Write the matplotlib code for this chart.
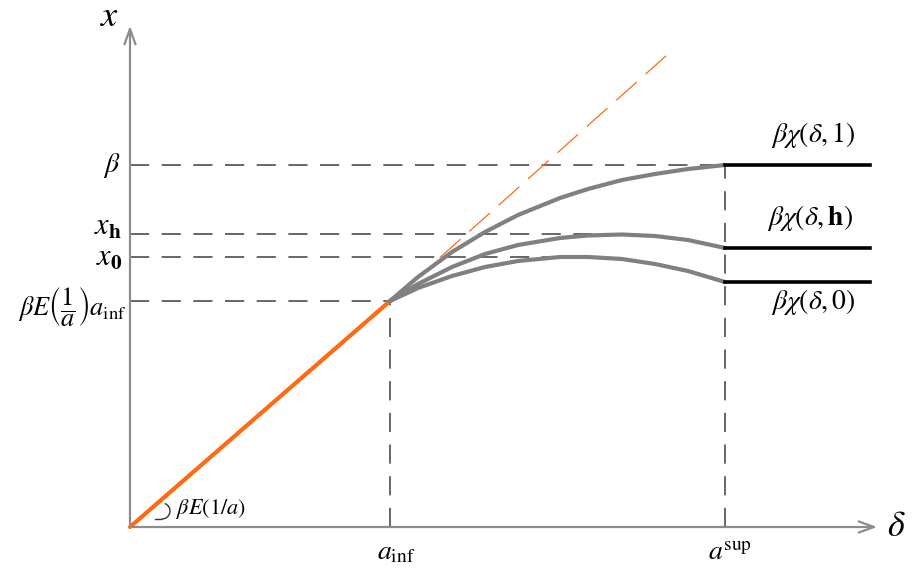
import matplotlib.pyplot as plt
from matplotlib.patches import Arc

plt.rcParams['mathtext.fontset'] = 'stix'
plt.rcParams['font.family'] = ['STIXGeneral', 'DejaVu Serif']

# levels (units ~ pixels from the origin)
a_inf = 260
a_sup = 595
beta = 362
x_h = 293
x_0 = 270
y_ainf = 226
ray_end = (537, 472)

# gray curves chi(delta, .) between a_inf and a_sup
d_pts = [260, 288, 322, 355, 388, 430, 458, 492, 525, 558, 595]
v_top = [226, 250, 275, 295, 312, 329, 338, 347, 353, 358, 362]
v_mid = [226, 243, 260, 273, 282, 289, 291.5, 292.5, 291, 287, 279]
v_bot = [226, 239, 251, 260, 266, 270, 270, 268, 263, 256, 245]

fig = plt.figure(figsize=(9.22, 5.76), dpi=100)
ax = fig.add_axes([0, 0, 1, 1])
ax.set_xlim(-130, 792)
ax.set_ylim(-49, 527)
ax.axis('off')

axis_col = '#8c8c8c'
dash_col = '#4d4d4d'
dash = (0, (11.5, 7.5))

# axes with open arrow heads
arrow = dict(arrowstyle='->,head_length=1.1,head_width=0.4', color=axis_col, lw=1.6)
ax.annotate('', xy=(750, 0), xytext=(0, 0), arrowprops=arrow)
ax.annotate('', xy=(0, 504), xytext=(0, 0), arrowprops=arrow)

# dashed guides
ax.plot([0, a_sup], [beta, beta], ls=dash, color=dash_col, lw=1.2)
ax.plot([0, 490], [x_h, x_h], ls=dash, color=dash_col, lw=1.2)
ax.plot([0, 455], [x_0, x_0], ls=dash, color=dash_col, lw=1.2)
ax.plot([0, a_inf], [y_ainf, y_ainf], ls=dash, color=dash_col, lw=1.2)
ax.plot([a_inf, a_inf], [0, y_ainf], ls=dash, color=dash_col, lw=1.2)
ax.plot([a_sup, a_sup], [0, beta], ls=dash, color=dash_col, lw=1.2)

# linear part and its continuation
ax.plot([0, a_inf], [0, y_ainf], color='#ff6a13', lw=3.0, solid_capstyle='round')
slope = y_ainf / a_inf
ax.plot([310, ray_end[0]], [310 * slope, ray_end[1]], ls=(0, (22, 9.5)), color='#ff6a13', lw=0.9)

# curves
for v in [v_top, v_mid, v_bot]:
    ax.plot(d_pts, v, color='#808080', lw=3.0, solid_capstyle='round', solid_joinstyle='round')

# flat parts beyond a_sup
for lev in [v_top[-1], v_mid[-1], v_bot[-1]]:
    ax.plot([a_sup, 740], [lev, lev], color='black', lw=2.6)

# angle mark ")"
ax.add_patch(Arc((32, 16), 16, 16, theta1=-95, theta2=70, color='#333333', lw=1.0))
ax.plot([25, 31], [8, 8], color='#333333', lw=1.0)
ax.text(46, 18, r'$\beta E\left(1/a\right)$', fontsize=16, va='center', ha='left')

# labels
fs = 20
ax.text(-20, 510, r'$x$', fontsize=26, ha='center', va='center')
ax.text(757, 0, r'$\delta$', fontsize=26, ha='left', va='center')
ax.text(-10, beta, r'$\beta$', fontsize=fs, ha='right', va='center')
ax.text(-8, x_h + 6, r'$x_{\mathbf{h}}$', fontsize=22, ha='right', va='center')
ax.text(-8, x_0 - 2, r'$x_{\mathbf{0}}$', fontsize=22, ha='right', va='center')
ax.text(-4, y_ainf - 6, r'$\beta E\left(\dfrac{1}{a}\right)a_{\mathrm{inf}}$', fontsize=19, ha='right', va='center')
ax.text(a_inf + 6, -26, r'$a_{\mathrm{inf}}$', fontsize=fs, ha='center', va='center')
ax.text(a_sup + 5, -26, r'$a^{\mathrm{sup}}$', fontsize=fs, ha='center', va='center')
ax.text(683, beta + 30, r'$\beta\chi\left(\delta,1\right)$', fontsize=fs, ha='center', va='center')
ax.text(680, v_mid[-1] + 30, r'$\beta\chi\left(\delta,\mathbf{h}\right)$', fontsize=fs, ha='center', va='center')
ax.text(683, v_bot[-1] - 20, r'$\beta\chi\left(\delta,0\right)$', fontsize=fs, ha='center', va='center')

fig.savefig('out.png', dpi=100)
